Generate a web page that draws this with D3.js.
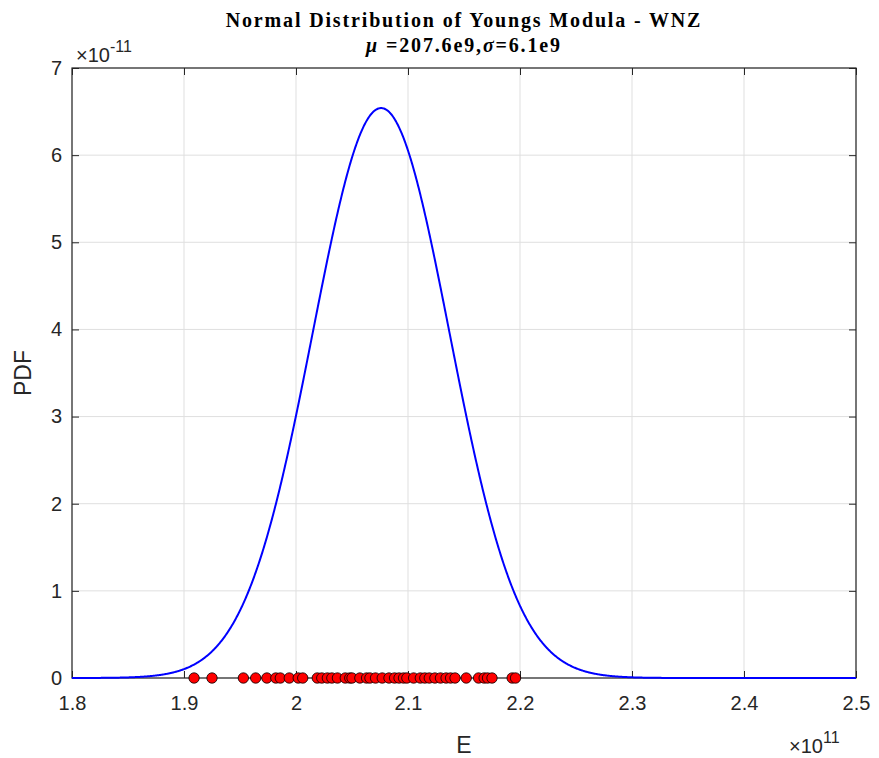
<!DOCTYPE html>
<html>
<head>
<meta charset="utf-8">
<script src="https://cdn.jsdelivr.net/npm/d3@7"></script>
<style>
  body { margin: 0; background: #fff; }
  text { font-family: "Liberation Sans", Arial, Helvetica, sans-serif; }
</style>
</head>
<body>
<svg id="chart" width="879" height="758"></svg>
<script>
// Fitted normal distribution parameters (Pa)
const mu = 207.6e9;
const sigma = 6.1e9;

// Measured Young's modulus samples, in GPa (1e9 Pa)
const samplesGPa = [
  190.9, 192.5, 195.3, 196.4, 197.4, 198.2, 198.6, 199.4, 200.2, 200.6,
  201.9, 202.3, 202.8, 203.2, 203.7, 204.4, 204.8, 205.0, 205.7, 206.3,
  206.6, 207.1, 207.7, 208.3, 208.8, 209.2, 209.6, 209.9, 210.5, 211.1,
  211.5, 211.9, 212.4, 212.9, 213.4, 213.8, 214.2, 215.2, 216.3, 216.8,
  217.1, 217.5, 219.3, 219.6
];

// Axis ticks (x in units of 1e11, y in units of 1e-11)
const xTicks = [1.8, 1.9, 2.0, 2.1, 2.2, 2.3, 2.4, 2.5];
const xTickLabels = ["1.8", "1.9", "2", "2.1", "2.2", "2.3", "2.4", "2.5"];
const yTicks = [0, 1, 2, 3, 4, 5, 6, 7];
const yTickLabels = ["0", "1", "2", "3", "4", "5", "6", "7"];

const xDomain = [1.8, 2.5];
const yDomain = [0, 7];

const svg = d3.select("#chart");
const box = { left: 72, right: 856, top: 68, bottom: 678 };

const x = d3.scaleLinear().domain(xDomain).range([box.left, box.right]);
const y = d3.scaleLinear().domain(yDomain).range([box.bottom, box.top]);

const axisColor = "#262626";
const gridColor = "#dfdfdf";

// Grid lines
const grid = svg.append("g");
grid.selectAll(".gx").data(xTicks).join("line")
  .attr("x1", d => x(d)).attr("x2", d => x(d))
  .attr("y1", box.top).attr("y2", box.bottom)
  .attr("stroke", gridColor).attr("stroke-width", 1);
grid.selectAll(".gy").data(yTicks).join("line")
  .attr("y1", d => y(d)).attr("y2", d => y(d))
  .attr("x1", box.left).attr("x2", box.right)
  .attr("stroke", gridColor).attr("stroke-width", 1);

// Normal PDF curve evaluated from the fitted parameters
const pdf = e => Math.exp(-0.5 * Math.pow((e - mu) / sigma, 2)) / (sigma * Math.sqrt(2 * Math.PI));
const xs = d3.range(xDomain[0], xDomain[1] + 1e-9, 0.0005);
const curve = xs.map(v => [v, pdf(v * 1e11) / 1e-11]);

// Axes with inward ticks (box on)
const tickLen = 7;
const axB = d3.axisBottom(x).tickValues(xTicks).tickFormat((d, i) => xTickLabels[i]).tickSizeInner(-tickLen).tickSizeOuter(0).tickPadding(18);
const axT = d3.axisTop(x).tickValues(xTicks).tickFormat("").tickSizeInner(-tickLen).tickSizeOuter(0);
const axL = d3.axisLeft(y).tickValues(yTicks).tickFormat((d, i) => yTickLabels[i]).tickSizeInner(-tickLen).tickSizeOuter(0).tickPadding(10);
const axR = d3.axisRight(y).tickValues(yTicks).tickFormat("").tickSizeInner(-tickLen).tickSizeOuter(0);

function styleAxis(g) {
  g.select(".domain").remove();
  g.selectAll(".tick line").attr("stroke", axisColor).attr("stroke-width", 1);
  g.selectAll(".tick text").attr("fill", axisColor).style("font-size", "20px")
    .style("font-family", "'Liberation Sans', Arial, sans-serif");
}

svg.append("g").attr("transform", `translate(0,${box.bottom})`).call(axB).call(styleAxis);
svg.append("g").attr("transform", `translate(0,${box.top})`).call(axT).call(styleAxis);
svg.append("g").attr("transform", `translate(${box.left},0)`).call(axL).call(styleAxis);
svg.append("g").attr("transform", `translate(${box.right},0)`).call(axR).call(styleAxis);

// Axes frame
svg.append("rect")
  .attr("x", box.left).attr("y", box.top)
  .attr("width", box.right - box.left).attr("height", box.bottom - box.top)
  .attr("fill", "none").attr("stroke", axisColor).attr("stroke-width", 1.2);

// PDF line
const line = d3.line().x(d => x(d[0])).y(d => y(d[1]));
svg.append("path")
  .datum(curve)
  .attr("d", line)
  .attr("fill", "none")
  .attr("stroke", "#0000ff")
  .attr("stroke-width", 2);

// Sample markers on the zero line
svg.append("g").selectAll("circle").data(samplesGPa).join("circle")
  .attr("cx", d => x(d / 100))
  .attr("cy", y(0))
  .attr("r", 5.2)
  .attr("fill", "#ff0000")
  .attr("stroke", "#000")
  .attr("stroke-width", 0.8);

// Exponent labels
const expX = svg.append("text").attr("x", 789).attr("y", 753)
  .attr("fill", axisColor).style("font-size", "20px");
expX.append("tspan").text("\u00d710");
expX.append("tspan").attr("dy", -10).style("font-size", "16px").text("11");

const expY = svg.append("text").attr("x", 76).attr("y", 62)
  .attr("fill", axisColor).style("font-size", "20px");
expY.append("tspan").text("\u00d710");
expY.append("tspan").attr("dy", -10).style("font-size", "16px").text("-11");

// Axis titles
svg.append("text")
  .attr("x", (box.left + box.right) / 2).attr("y", 753)
  .attr("text-anchor", "middle").attr("fill", axisColor)
  .style("font-size", "23px").text("E");

svg.append("text")
  .attr("transform", `translate(31,${(box.top + box.bottom) / 2}) rotate(-90)`)
  .attr("text-anchor", "middle").attr("fill", axisColor)
  .style("font-size", "23px").text("PDF");

// Title (two lines, serif bold)
const cx = (box.left + box.right) / 2;
svg.append("text")
  .attr("x", cx).attr("y", 27)
  .attr("text-anchor", "middle")
  .style("font-family", "'Liberation Serif', 'Times New Roman', serif")
  .style("font-weight", "bold").style("font-size", "20px")
  .style("letter-spacing", "1.85px")
  .attr("fill", "#000")
  .text("Normal Distribution of Youngs Modula - WNZ");

const t2 = svg.append("text")
  .attr("x", cx).attr("y", 52)
  .attr("text-anchor", "middle")
  .style("font-family", "'Liberation Serif', 'Times New Roman', serif")
  .style("font-weight", "bold").style("font-size", "20px")
  .style("letter-spacing", "1.85px")
  .attr("fill", "#000");
t2.append("tspan").style("font-style", "italic").text("\u03bc");
t2.append("tspan").text(" =207.6e9,");
t2.append("tspan").style("font-style", "italic").text("\u03c3");
t2.append("tspan").text("=6.1e9");
</script>
</body>
</html>
